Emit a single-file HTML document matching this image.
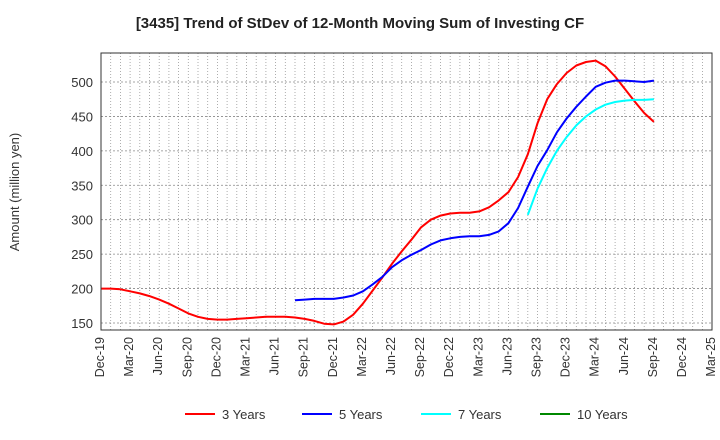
<!DOCTYPE html>
<html><head><meta charset="utf-8"><style>
body{margin:0;background:#fff;font-family:"Liberation Sans",sans-serif}
svg{display:block}
</style></head><body>
<svg id="chart" width="720" height="440" xmlns="http://www.w3.org/2000/svg" font-family="Liberation Sans, sans-serif">
<text x="360" y="28" text-anchor="middle" font-size="15" font-weight="bold" fill="#222">[3435]  Trend of StDev of 12-Month Moving Sum of Investing CF</text>
<text transform="translate(19,192) rotate(-90)" text-anchor="middle" font-size="13" fill="#333">Amount (million yen)</text>
<g id="grid"></g><g id="series"></g><g id="axes"></g>
<rect x="101" y="53" width="611" height="277" fill="none" stroke="#333" stroke-width="1"/>
<g font-size="13" fill="#333">
<g><line x1="185" y1="414" x2="215" y2="414" stroke="#f00" stroke-width="2"/><text x="222" y="419">3 Years</text></g>
<g><line x1="302" y1="414" x2="332" y2="414" stroke="#00f" stroke-width="2"/><text x="339" y="419">5 Years</text></g>
<g><line x1="421" y1="414" x2="451" y2="414" stroke="#0ff" stroke-width="2"/><text x="458" y="419">7 Years</text></g>
<g><line x1="540" y1="414" x2="570" y2="414" stroke="#080" stroke-width="2"/><text x="577" y="419">10 Years</text></g>
</g>
</svg>
<script>
const xLabels=["Dec-19","Mar-20","Jun-20","Sep-20","Dec-20","Mar-21","Jun-21","Sep-21","Dec-21","Mar-22","Jun-22","Sep-22","Dec-22","Mar-23","Jun-23","Sep-23","Dec-23","Mar-24","Jun-24","Sep-24","Dec-24","Mar-25"];
const yTicks=[150,200,250,300,350,400,450,500];
const red3=[200,200,199,196,193,189,184,178,171,164,159,156,155,155,156,157,158,159,159,159,158,156,153,149,148,152,162,178,197,216,236,254,271,289,300,306,309,310,310,312,318,328,340,362,395,440,475,497,513,524,529,531,523,508,490,472,455,442];
const blue5Start=20;
const blue5=[183,184,185,185,185,187,190,196,206,217,231,241,249,256,264,270,273,275,276,276,278,283,295,317,348,378,401,427,447,464,479,493,499,502,502,501,500,502];
const cyan7Start=44;
const cyan7=[307,345,375,400,420,437,450,460,467,471,473,474,474,475];
const NS="http://www.w3.org/2000/svg";
const X0=101,DX=9.7,Y150=323,SY=0.6886;
function xs(i){return X0+DX*i}
function ys(v){return Y150-(v-150)*SY}
const grid=document.getElementById('grid'),axes=document.getElementById('axes'),ser=document.getElementById('series');
function mk(tag,at,p){const e=document.createElementNS(NS,tag);for(const k in at)e.setAttribute(k,at[k]);p.appendChild(e);return e}
for(let m=1;m<=63;m++){
const l=mk('line',{x1:xs(m),x2:xs(m),y1:53,y2:330,stroke:'#999','stroke-width':0.8,'stroke-dasharray':'1,2'},grid);


}
yTicks.forEach(v=>{
const l=mk('line',{x1:101,x2:712,y1:ys(v),y2:ys(v),stroke:'#888','stroke-width':0.8,'stroke-dasharray':'2,2'},grid);


const t=mk('text',{x:93,y:ys(v)+5,'text-anchor':'end','font-size':13,fill:'#333'},axes);
t.textContent=v;


});
xLabels.forEach((s,k)=>{
const x=xs(k*3)-1;
const t=mk('text',{transform:`translate(${x+4},337) rotate(-90)`,'text-anchor':'end','font-size':12.5,fill:'#333'},axes);
t.textContent=s;


});
function line(vals,start,color,name){
const d=vals.map((v,i)=>(i?'L':'M')+xs(start+i).toFixed(1)+','+ys(v).toFixed(1)).join('');
const p=mk('path',{d:d,fill:'none',stroke:color,'stroke-width':2,'stroke-linejoin':'round'},ser);


}
line(red3,0,'#f00','series-3-years');
line(blue5,blue5Start,'#00f','series-5-years');
line(cyan7,cyan7Start,'#0ff','series-7-years');
</script>
</body></html>
